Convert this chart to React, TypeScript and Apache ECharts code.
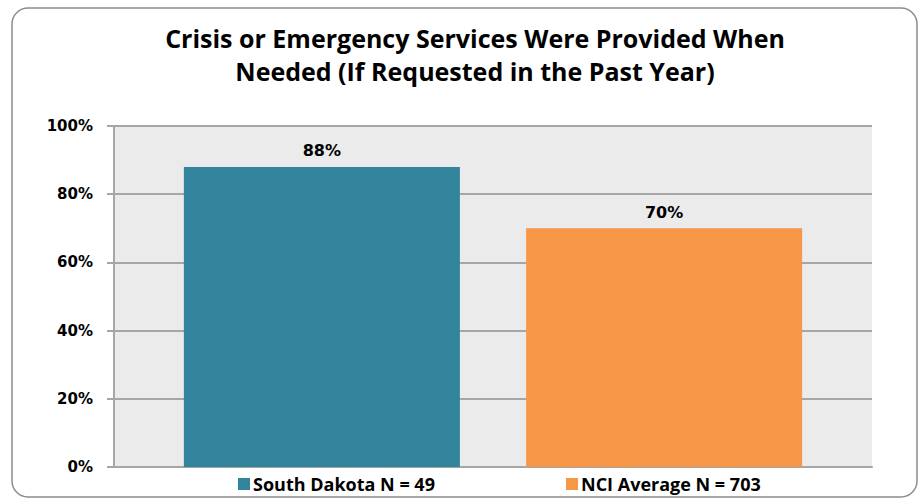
import React, { useEffect, useRef } from "react";
import * as echarts from "echarts";

const categories = [""];
const seriesNames = ["South Dakota N = 49", "NCI Average N = 703"];
const seriesValues = [88, 70];
const seriesColors = ["#31849B", "#F79646"];
const titleLines = ["Crisis or Emergency Services Were Provided When", "Needed (If Requested in the Past Year)"];

export default function App() {
  const ref = useRef<HTMLDivElement>(null);
  useEffect(() => {
    const chart = echarts.init(ref.current!, null, { renderer: "svg" });
    const legendText = { fontFamily: "Open Sans", fontWeight: "bold", fontSize: 18, color: "#000", padding: [0, 0, 0, -2] };
    chart.setOption({
      animation: false,
      backgroundColor: "#ffffff",
      title: {
        text: titleLines.join("\n"),
        left: 470,
        textAlign: "center",
        top: 16,
        textStyle: {
          fontFamily: "Open Sans",
          fontWeight: "bold",
          fontSize: 25,
          lineHeight: 33,
          color: "#000000",
        },
      },
      graphic: [
        {
          type: "rect",
          shape: { x: 12, y: 8, width: 905, height: 489, r: 16 },
          style: { fill: "none", stroke: "#8C8C8C", lineWidth: 1.5 },
          z: -1,
        },
      ],
      legend: [
        {
          data: [seriesNames[0]],
          left: 233,
          top: 470,
          itemWidth: 12,
          itemHeight: 12,
          icon: "rect",
          textStyle: legendText,
        },
        {
          data: [seriesNames[1]],
          left: 561,
          top: 470,
          itemWidth: 12,
          itemHeight: 12,
          icon: "rect",
          textStyle: legendText,
        },
      ],
      grid: {
        left: 114,
        right: 50,
        top: 126,
        bottom: 34,
        show: true,
        backgroundColor: "#EBEBEB",
        borderWidth: 0,
      },
      xAxis: {
        type: "category",
        data: categories,
        axisLine: { show: true, lineStyle: { color: "#A6A6A6", width: 2 } },
        axisTick: { show: false },
        axisLabel: { show: false },
      },
      yAxis: {
        type: "value",
        min: 0,
        max: 100,
        interval: 20,
        axisLine: { show: true, lineStyle: { color: "#A6A6A6", width: 2 } },
        axisTick: { show: true, length: 7, lineStyle: { color: "#A6A6A6", width: 2 } },
        axisLabel: {
          formatter: "{value}%",
          fontFamily: "DejaVu Sans",
          fontWeight: "bold",
          fontSize: 15,
          color: "#000",
          margin: 21,
        },
        splitLine: { show: true, lineStyle: { color: "#A6A6A6", width: 2 } },
      },
      series: seriesNames.map((name, i) => ({
        name,
        type: "bar",
        data: [seriesValues[i]],
        barWidth: 276,
        barGap: "24%",
        itemStyle: { color: seriesColors[i] },
        label: {
          show: true,
          position: "top",
          distance: 8,
          formatter: "{c}%",
          fontFamily: "DejaVu Sans",
          fontWeight: "bold",
          fontSize: 16,
          color: "#000",
        },
      })),
    });
    return () => chart.dispose();
  }, []);
  return (
    <div
      ref={ref}
      style={{ position: "absolute", left: 0, top: 0, width: 922, height: 501 }}
    />
  );
}
